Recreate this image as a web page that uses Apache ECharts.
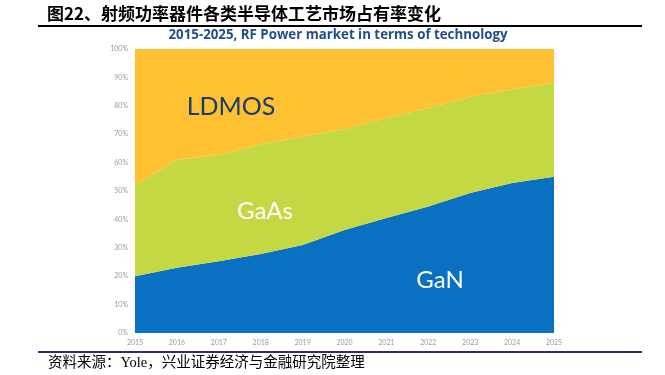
<!DOCTYPE html>
<html>
<head>
<meta charset="utf-8">
<script src="https://cdn.jsdelivr.net/npm/echarts@6/dist/echarts.min.js"></script>
<style>
  html, body { margin: 0; padding: 0; background: #fff; }
  #chart { width: 665px; height: 375px; }
</style>
</head>
<body>
<div id="chart"></div>
<script>
const years = ['2015', '2016', '2017', '2018', '2019', '2020', '2021', '2022', '2023', '2024', '2025'];
// market share by technology, % (stacked bottom to top)
const ganShare = [20, 23, 25.3, 27.8, 31, 36.3, 40.5, 44.5, 49.3, 52.8, 55];
const gaasShare = [32, 38, 37.4, 38.7, 38.1, 35.5, 35.2, 34.7, 33.9, 33, 33];
const ldmosShare = [48, 39, 37.3, 33.5, 30.9, 28.2, 24.3, 20.8, 16.8, 14.2, 12];
const yTicks = [0, 10, 20, 30, 40, 50, 60, 70, 80, 90, 100];

const chart = echarts.init(document.getElementById('chart'));

function areaSeries(name, values, color) {
  return {
    name: name,
    type: 'line',
    stack: 'total',
    data: values,
    symbol: 'none',
    lineStyle: { width: 0 },
    areaStyle: { color: color, opacity: 1 },
    silent: true
  };
}

const option = {
  animation: false,
  backgroundColor: '#fff',
  grid: { left: 135, right: 111, top: 49, bottom: 42 },
  xAxis: {
    type: 'category',
    data: years,
    boundaryGap: false,
    axisLine: { show: false },
    axisTick: { show: false },
    axisLabel: { color: '#9a9a9a', fontSize: 7, margin: 6, fontFamily: 'Lato' }
  },
  yAxis: {
    type: 'value',
    min: yTicks[0],
    max: yTicks[yTicks.length - 1],
    interval: 10,
    axisLine: { show: false },
    axisTick: { show: false },
    splitLine: { show: false },
    axisLabel: { color: '#9a9a9a', fontSize: 7, margin: 7, fontFamily: 'Lato', formatter: '{value}%' }
  },
  series: [
    areaSeries('GaN', ganShare, '#0a70c2'),
    areaSeries('GaAs', gaasShare, '#c4d843'),
    areaSeries('LDMOS', ldmosShare, '#fdc131')
  ],
  graphic: [
    {
      type: 'text', left: 47, top: 5, z: 100,
      style: { text: '图22、射频功率器件各类半导体工艺市场占有率变化', fill: '#000', font: 'bold 17px "Noto Sans CJK SC"' }
    },
    {
      type: 'rect', z: 100, shape: { x: 38, y: 25, width: 604, height: 2 }, style: { fill: '#000' }
    },
    {
      type: 'text', x: 338, y: 35, z: 100,
      style: { text: '2015-2025, RF Power market in terms of technology', fill: '#1f4e8c', font: 'bold 13.3px "Open Sans"', align: 'center', verticalAlign: 'middle' }
    },
    {
      type: 'text', x: 231, y: 107, z: 100,
      style: { text: 'LDMOS', fill: '#1b3a6e', font: '25px Lato', align: 'center', verticalAlign: 'middle' }
    },
    {
      type: 'text', x: 265, y: 211, z: 100,
      style: { text: 'GaAs', fill: '#fff', font: '24px Lato', align: 'center', verticalAlign: 'middle' }
    },
    {
      type: 'text', x: 440, y: 280, z: 100,
      style: { text: 'GaN', fill: '#fff', font: '24px Lato', align: 'center', verticalAlign: 'middle' }
    },
    {
      type: 'rect', z: 100, shape: { x: 38, y: 351, width: 604, height: 2 }, style: { fill: '#2a306e' }
    },
    {
      type: 'text', left: 48, top: 356, z: 100,
      style: { text: '资料来源：Yole，兴业证券经济与金融研究院整理', fill: '#000', font: '14.5px "Liberation Serif", "Noto Sans CJK SC"' }
    }
  ]
};

chart.setOption(option);
</script>
</body>
</html>
